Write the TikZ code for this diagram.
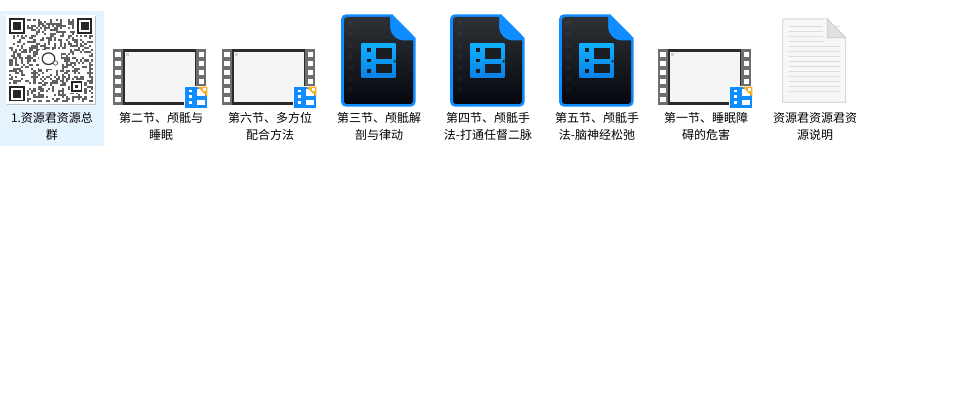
\documentclass[tikz,border=0pt]{standalone}
\usepackage{fontspec}
\setmainfont{Noto Sans CJK SC}
\definecolor{selbg}{HTML}{E5F3FF}
\definecolor{filmgray}{HTML}{6E6E6E}
\definecolor{framedark}{HTML}{2B2B2B}
\definecolor{screen}{HTML}{F5F5F5}
\definecolor{iconblue}{HTML}{0F8CFF}
\definecolor{foldorange}{HTML}{F5AF28}
\definecolor{filmtop}{HTML}{10B0FF}
\definecolor{filmbot}{HTML}{0A80E8}
\definecolor{darktop}{HTML}{2E3236}
\definecolor{darkbot}{HTML}{04080E}
\definecolor{cellink}{HTML}{1A1D22}
\definecolor{docline}{HTML}{DADDDF}
\definecolor{docedge}{HTML}{C8C8C8}
\tikzset{
  label text/.style={inner sep=0pt,align=center,text=black,font=\fontsize{9}{12.75}\selectfont}
}
\newcommand{\videoicon}[1]{%
 \begin{scope}[shift={(#1,0)}]
  \fill[filmgray] (113,49) rectangle (206,105);
  \fill[framedark] (123,49) rectangle (196,105);
  \fill[screen] (124.5,52) rectangle (195,102);
  \fill[black!18] (125.5,53) rectangle (128.5,56);
  \foreach \k in {0,...,5}{
    \fill[white] (115,52+9*\k) rectangle (120.5,57+9*\k);
    \fill[white] (198.5,52+9*\k) rectangle (204,57+9*\k);
  }
  \fill[white] (184,85.7) rectangle (208,109);
  \fill[iconblue] (185,86.7) rectangle (207.3,108.3);
  \fill[white] (196.5,89.5) rectangle (204.5,96.5);
  \fill[white] (196.5,100) rectangle (204.5,105.5);
  \fill[foldorange] (197.3,86.7) -- (207.3,86.7) -- (207.3,96.7) -- cycle;
  \fill[white] (203,88.5) rectangle (205.5,91);
  \fill[white] (188.5,90) rectangle (191.5,92.5);
  \fill[white] (188.5,95.2) rectangle (191.5,97.7);
  \fill[white] (188.5,101) rectangle (191.5,103.7);
 \end{scope}}
\newcommand{\darkicon}[1]{%
 \begin{scope}[shift={(#1,0)}]
  \fill[iconblue] (346,14.3) -- (392.3,14.3) -- (415.7,38) -- (415.7,101.7)
     arc[start angle=0,end angle=90,radius=5] -- (346,106.7)
     arc[start angle=90,end angle=180,radius=5] -- (341,19.3)
     arc[start angle=180,end angle=270,radius=5] -- cycle;
  \shade[top color=darktop,bottom color=darkbot] (347,17) -- (390,17) -- (390,27)
     .. controls (390,34) and (396,40.5) .. (404,40.5) -- (413,40.5) -- (413,101)
     arc[start angle=0,end angle=90,radius=3] -- (347,104)
     arc[start angle=90,end angle=180,radius=3] -- (344,20)
     arc[start angle=180,end angle=270,radius=3] -- cycle;
  \foreach \k in {0,...,6}{
    \fill[white,opacity=.03] (348,21+11*\k) rectangle (353,26+11*\k);
  }
  \shade[top color=filmtop,bottom color=filmbot] (361.3,44) rectangle (395.3,78);
  \fill[cellink] (366.8,48.5) rectangle (370.8,52);
  \fill[cellink] (366.8,59) rectangle (370.8,62.5);
  \fill[cellink] (366.8,69.5) rectangle (370.8,73);
  \fill[cellink] (375.5,48.5) rectangle (391.5,58.8);
  \fill[cellink] (375.5,63.8) rectangle (391.5,73.5);
  \fill[cellink] (395.3,59.5) -- (393.3,61.3) -- (395.3,63) -- cycle;
 \end{scope}}
\newcommand{\finder}[2]{%
  \fill[black!85] (#1,#2) rectangle ++(15.5,15.5);
  \fill[white] (#1+1.9,#2+1.9) rectangle ++(11.7,11.7);
  \fill[black!85] (#1+3.7,#2+3.7) rectangle ++(8.1,8.1);}
\begin{document}
\begin{tikzpicture}[x=0.75pt,y=-0.75pt]
\useasboundingbox (0,0) rectangle (957,420);
\fill[white] (0,0) rectangle (957,420);
\fill[selbg] (0,11) rectangle (104,146);
% QR image
\fill[black!25] (7,16) rectangle (96,105);
\fill[white] (6,15) rectangle (95,104);
\pgfmathsetseed{4217}
\foreach \i in {0,...,40}{
  \foreach \j in {0,...,40}{
    \pgfmathsetmacro{\mx}{9+2.04*\i}
    \pgfmathsetmacro{\my}{18.7+2.04*\j}
    \pgfmathtruncatemacro{\on}{rnd<0.42 ? 1 : 0}
    \ifnum\on=1
      \fill[black!62] (\mx,\my) rectangle ++(2.04,2.04);
    \fi
  }
}
\fill[white] (7,16) rectangle (26.5,35.5);
\fill[white] (75,16) rectangle (94.5,35.5);
\fill[white] (7,84) rectangle (26.5,103.5);
\finder{9}{18.5}
\finder{76.8}{18.5}
\finder{9}{86}
\fill[white] (70,80) rectangle (83.5,93);
\fill[black!85] (71.3,81) rectangle (82.3,92);
\fill[white] (73,82.7) rectangle (80.6,90.3);
\fill[black!85] (75.3,85) rectangle (78.3,88);
% logo
\fill[white] (39,50) rectangle (60.7,68.7);
\draw[black!80,line width=0.9pt] (48.5,58.7) ellipse (6.3 and 5.8);
\draw[black!60,line width=0.6pt,fill=white] (55.5,63) circle (2.2);
% video and file icons
\videoicon{0}
\videoicon{109}
\darkicon{0}
\darkicon{109}
\darkicon{218}
\videoicon{545}
% text document
\fill[white!97!black,draw=docedge,line width=0.5pt] (782.7,19) -- (827.3,19) -- (845.7,37.7) -- (845.7,102.3) -- (782.7,102.3) -- cycle;
\foreach \k in {0,...,13}{
  \draw[docline,line width=0.75pt] (788.5,27+5*\k) -- (840,27+5*\k);
}
\fill[white!97!black] (823,19.3) -- (827.3,19.3) -- (827.3,37) -- (845.4,37) -- (845.4,42) -- (823,42) -- cycle;
\fill[black!12,draw=docedge,line width=0.5pt] (827.3,19) -- (845.7,37.7) -- (827.3,37.7) -- cycle;
% labels
\node[label text] (t1) at (52,126.5) {1.资源君资源总\\群};
\node[label text] (t2) at (161,126.5) {第二节、颅骶与\\睡眠};
\node[label text] (t3) at (270,126.5) {第六节、多方位\\配合方法};
\node[label text] (t4) at (379,126.5) {第三节、颅骶解\\剖与律动};
\node[label text] (t5) at (488,126.5) {第四节、颅骶手\\法-打通任督二脉};
\node[label text] (t6) at (597,126.5) {第五节、颅骶手\\法-脑神经松弛};
\node[label text] (t7) at (706,126.5) {第一节、睡眠障\\碍的危害};
\node[label text] (t8) at (815,126.5) {资源君资源君资\\源说明};
\end{tikzpicture}
\end{document}
